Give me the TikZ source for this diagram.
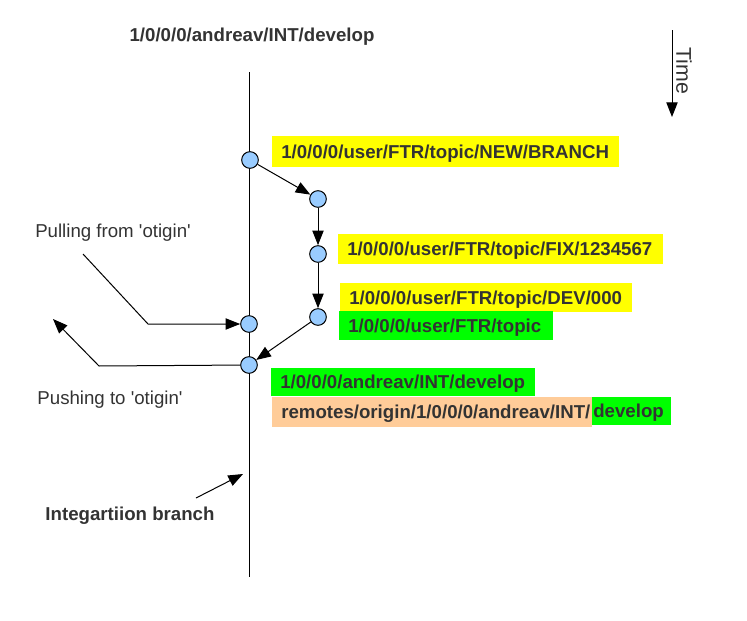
\documentclass[tikz,border=0pt]{standalone}
\usepackage{fontspec}
\setmainfont{Liberation Sans}
\usetikzlibrary{arrows.meta}
\definecolor{ylw}{HTML}{FFFF00}
\definecolor{grn}{HTML}{00FF00}
\definecolor{org}{HTML}{FFCC99}
\definecolor{cblue}{HTML}{99CCFF}
\definecolor{txt}{HTML}{333333}
\begin{document}
\begin{tikzpicture}[x=0.75pt,y=-0.75pt,
  every node/.style={font=\fontsize{14pt}{16pt}\selectfont, text=txt},
  commit/.style={circle, draw=black, fill=cblue, line width=0.75pt, minimum size=12.5pt, inner sep=0pt},
  lbl/.style={anchor=north west, inner xsep=6.75pt, inner ysep=0pt, text height=10pt, text depth=0pt, align=left, font=\fontsize{14pt}{16pt}\selectfont\bfseries},
  arr/.style={line width=0.75pt, -{Triangle[length=11pt,width=8.5pt]}},
  ln/.style={line width=0.75pt}
]
\useasboundingbox (0,0) rectangle (747,621);

% main line
\coordinate (m0) at (249,72);
\coordinate (m1) at (249,577);
\draw[ln] (m0) -- (m1);

% title
\node[font=\fontsize{14pt}{16pt}\selectfont\bfseries] (title) at (252,37) {1/0/0/0/andreav/INT/develop};

% time
\coordinate (t0) at (672,30);
\coordinate (t1) at (672,117);
\draw[arr] (t0) -- (t1);
\node[rotate=-90, font=\fontsize{16pt}{18pt}\selectfont] (time) at (684,71) {Time};

% commits
\node[commit] (c1) at (250,160) {};
\node[commit] (c2) at (318,199) {};
\node[commit] (c3) at (318,254) {};
\node[commit] (c4) at (318,317) {};
\node[commit] (c5) at (249,324) {};
\node[commit] (c6) at (249,365) {};

\draw[arr] (c1) -- (c2);
\draw[arr] (c2) -- (c3);
\draw[arr] (c3) -- (c4);
\draw[arr] (c4) -- (c6);

% pulling
\coordinate (p0) at (83,254);
\coordinate (p1) at (148,324);
\draw[arr] (p0) -- (p1) -- (c5);
\node (pull) at (113,233) {Pulling from \textquotesingle otigin\textquotesingle};

% pushing
\coordinate (q1) at (99,366);
\coordinate (q2) at (53,319);
\draw[arr] (c6) -- (q1) -- (q2);
\node (push) at (110,400) {Pushing to \textquotesingle otigin\textquotesingle};

% integration branch
\coordinate (i0) at (196,498);
\coordinate (i1) at (243,474);
\draw[arr] (i0) -- (i1);
\node[font=\fontsize{14pt}{16pt}\selectfont\bfseries] (integ) at (130,516) {Integartiion branch};

% labels
\node[lbl, fill=ylw, text width=246.75pt, minimum height=23.25pt] (l1) at (272,136) {1/0/0/0/user/FTR/topic/NEW/BRANCH};
\node[lbl, fill=ylw, text width=230.25pt, minimum height=22.5pt] (l2) at (338,234) {1/0/0/0/user/FTR/topic/FIX/1234567};
\node[lbl, fill=ylw, text width=205.5pt, minimum height=21.75pt] (l3) at (340,283) {1/0/0/0/user/FTR/topic/DEV/000};
\node[lbl, fill=grn, text width=147pt, minimum height=21.75pt] (l4) at (339,311) {1/0/0/0/user/FTR/topic};
\node[lbl, fill=grn, text width=184.5pt, minimum height=21pt] (l5) at (271,368) {1/0/0/0/andreav/INT/develop};
\node[lbl, fill=org, text width=226.5pt, minimum height=22.5pt] (l6) at (272,397) {remotes/origin/1/0/0/0/andreav/INT/};
\node[lbl, fill=grn, inner xsep=0.75pt, text width=57.75pt, minimum height=21pt] (l7) at (592,397) {develop};
\end{tikzpicture}
\end{document}
